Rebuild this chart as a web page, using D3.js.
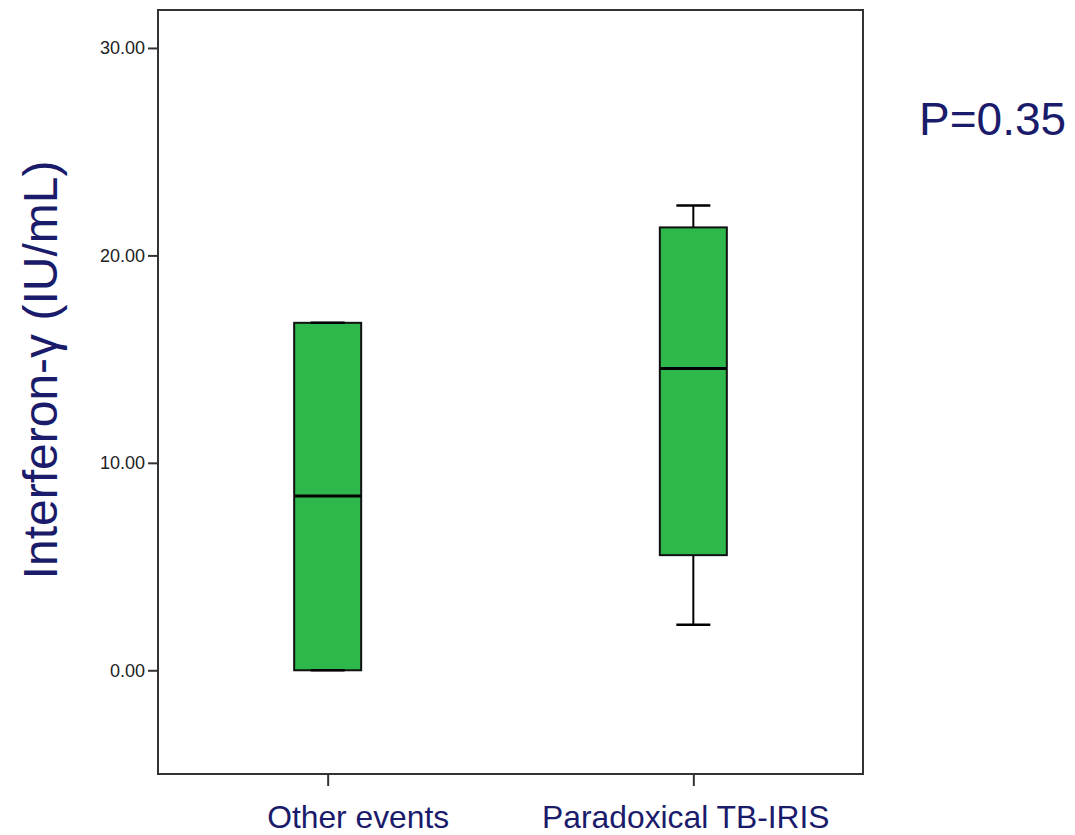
<!DOCTYPE html>
<html><head><meta charset="utf-8">
<script src="https://cdn.jsdelivr.net/npm/d3@7"></script>
<style>body{margin:0;background:#fff}svg{display:block}</style>
</head><body>
<svg id="chart" width="1075" height="835"></svg>
<script>
const categories = ["Other events", "Paradoxical TB-IRIS"];
const whiskerLow  = [0.0, 2.2];
const q1          = [0.0, 5.55];
const median      = [8.4, 14.55];
const q3          = [16.75, 21.35];
const whiskerHigh = [16.75, 22.4];
const yTicks = [0, 10, 20, 30];
const yDomain = [-5, 31.83];
const yTitle = "Interferon-γ (IU/mL)";
const pLabel = "P=0.35";

const svg = d3.select("#chart");
const pL = 158, pR = 863, pT = 10, pB = 774;
const navy = "#1b1b6b";
const labelShift = [30, -8];

const x = d3.scalePoint().domain(categories).range([pL, pR]).padding(0.464);
const y = d3.scaleLinear().domain(yDomain).range([pB, pT]);

// frame
svg.append("rect").attr("x", pL).attr("y", pT).attr("width", pR-pL).attr("height", pB-pT)
  .attr("fill", "none").attr("stroke", "#333").attr("stroke-width", 2);

// y axis
const ya = svg.append("g").attr("transform", `translate(${pL},0)`)
  .call(d3.axisLeft(y).tickValues(yTicks).tickFormat(d3.format(".2f")).tickSize(10).tickPadding(3));
ya.select(".domain").remove();
ya.selectAll(".tick line").attr("stroke", "#333").attr("stroke-width", 2);
ya.selectAll(".tick text").attr("font-family", "Liberation Sans, Arial, sans-serif").attr("font-size", 18).attr("fill", "#222");

// x axis
const xa = svg.append("g").attr("transform", `translate(0,${pB})`)
  .call(d3.axisBottom(x).tickSize(12).tickPadding(19));
xa.select(".domain").remove();
xa.selectAll(".tick line").attr("stroke", "#333").attr("stroke-width", 2);
xa.selectAll(".tick text").attr("font-family", "Liberation Sans, Arial, sans-serif").attr("font-size", 31.8).attr("fill", navy)
  .attr("dx", (d, i) => labelShift[i]);

// boxes
const boxW = 67, capW = 34;
categories.forEach((c, i) => {
  const cx = x(c);
  const g = svg.append("g");
  g.append("line").attr("x1", cx).attr("x2", cx).attr("y1", y(whiskerHigh[i])).attr("y2", y(q3[i])).attr("stroke", "#000").attr("stroke-width", 2);
  g.append("line").attr("x1", cx).attr("x2", cx).attr("y1", y(q1[i])).attr("y2", y(whiskerLow[i])).attr("stroke", "#000").attr("stroke-width", 2);
  g.append("rect").attr("x", cx-boxW/2).attr("y", y(q3[i])).attr("width", boxW).attr("height", y(q1[i])-y(q3[i]))
    .attr("fill", "#2eb84b").attr("stroke", "#111").attr("stroke-width", 2);
  g.append("line").attr("x1", cx-capW/2).attr("x2", cx+capW/2).attr("y1", y(whiskerHigh[i])).attr("y2", y(whiskerHigh[i])).attr("stroke", "#000").attr("stroke-width", 2.5);
  g.append("line").attr("x1", cx-capW/2).attr("x2", cx+capW/2).attr("y1", y(whiskerLow[i])).attr("y2", y(whiskerLow[i])).attr("stroke", "#000").attr("stroke-width", 2.5);
  g.append("line").attr("x1", cx-boxW/2).attr("x2", cx+boxW/2).attr("y1", y(median[i])).attr("y2", y(median[i])).attr("stroke", "#000").attr("stroke-width", 3);
});

// y title
svg.append("text").attr("transform", "translate(57,370) rotate(-90)")
  .attr("text-anchor", "middle").attr("font-family", "Liberation Sans, Arial, sans-serif")
  .attr("font-size", 48).attr("fill", navy).text(yTitle);

// P value
svg.append("text").attr("x", 919).attr("y", 135).attr("font-family", "Liberation Sans, Arial, sans-serif")
  .attr("font-size", 46).attr("fill", navy).text(pLabel);
</script>
</body></html>
